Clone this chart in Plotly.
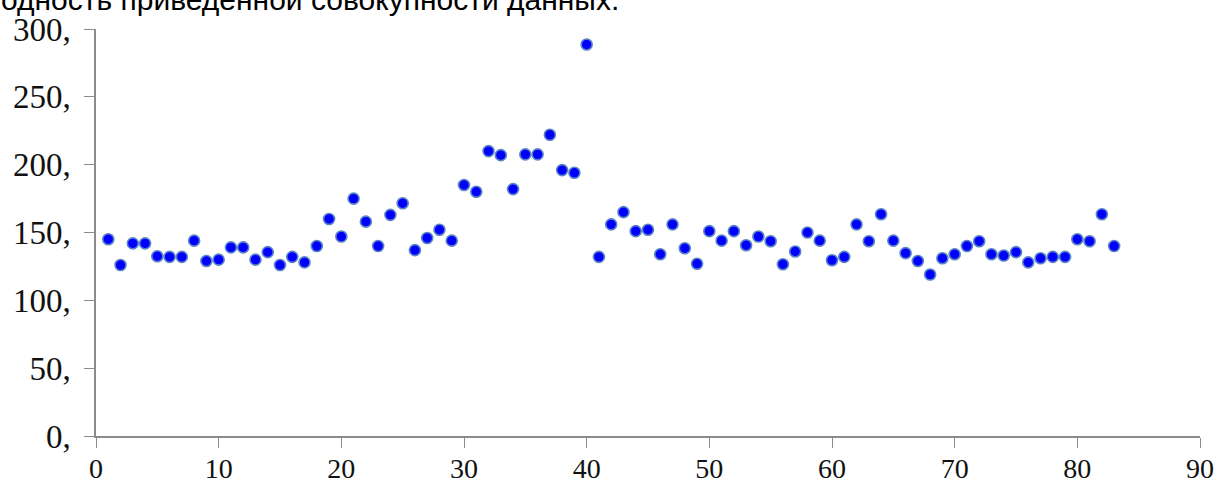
import plotly.graph_objects as go

x_vals = list(range(1, 84))
y_vals = [145, 126, 142, 142, 132.5, 132, 132, 144, 129, 130,
          139, 139, 130, 135.5, 126, 132, 128, 140, 160, 147,
          175, 158, 140, 163, 171.6, 137, 146, 152, 144, 185,
          180, 210, 207, 182, 207.6, 207.6, 222, 196, 194, 288.6,
          132, 156, 165, 151, 152, 134, 156, 138.4, 127, 151,
          144, 151, 140.6, 147, 143.6, 126.6, 136, 150, 144, 129.6,
          132, 156, 143.6, 163.5, 144, 134.8, 129, 119, 131, 134,
          140, 143.6, 134, 133, 135.5, 128, 131, 132, 132, 145,
          143.6, 163.5, 140]
x_ticks = [0, 10, 20, 30, 40, 50, 60, 70, 80, 90]
y_ticks = [0, 50, 100, 150, 200, 250, 300]
y_tick_labels = ["0,", "50,", "100,", "150,", "200,", "250,", "300,"]
caption = "одность приведенной совокупности данных."

fig = go.Figure()
fig.add_trace(go.Scatter(
    x=x_vals, y=y_vals, mode="markers",
    marker=dict(size=11, color="#0000FF", line=dict(color="#5B84C4", width=1.6)),
    showlegend=False, cliponaxis=False,
))

axis_color = "#8C8C8C"
fig.update_xaxes(
    range=[0, 90], tickvals=x_ticks, ticktext=[str(v) for v in x_ticks],
    showgrid=False, zeroline=False, showline=True, linecolor=axis_color, linewidth=1.5,
    ticks="outside", ticklen=10, tickcolor=axis_color, tickwidth=1,
    ticklabelstandoff=-3, automargin=False,
    tickfont=dict(family="Liberation Serif", size=28, color="#111111"),
)
fig.update_yaxes(
    range=[0, 300], tickvals=y_ticks, ticktext=y_tick_labels,
    showgrid=False, zeroline=False, showline=True, linecolor=axis_color, linewidth=1.5,
    ticks="outside", ticklen=10, tickcolor=axis_color, tickwidth=1,
    ticklabelstandoff=7, automargin=False,
    tickfont=dict(family="Liberation Serif", size=33, color="#111111"),
)

fig.add_annotation(
    text=caption, xref="paper", yref="paper", x=0, y=1,
    xanchor="left", yanchor="bottom", xshift=-97, yshift=11,
    showarrow=False, font=dict(family="Liberation Sans", size=30, color="#000000"),
)

fig.update_layout(
    width=1226, height=487,
    margin=dict(l=96, r=26, t=29, b=51, autoexpand=False),
    paper_bgcolor="white", plot_bgcolor="white",
)

fig.write_html("out.html", config={"displayModeBar": False},
               post_script="document.body.style.margin='0';")
